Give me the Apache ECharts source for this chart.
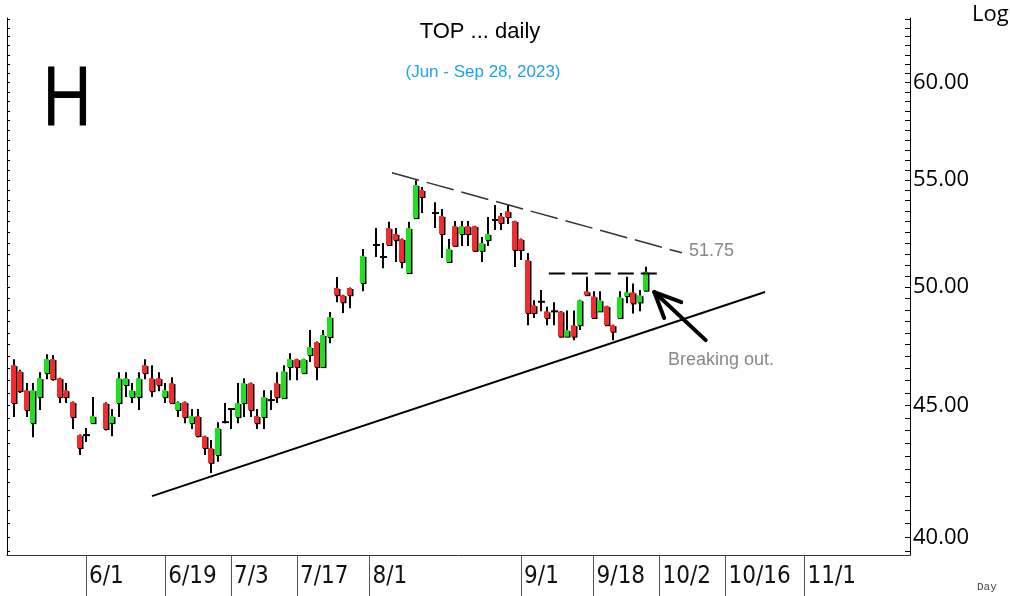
<!DOCTYPE html>
<html>
<head>
<meta charset="utf-8">
<title>TOP ... daily</title>
<script src="https://cdn.jsdelivr.net/npm/echarts@6/dist/echarts.min.js"></script>
<style>
  html, body { margin: 0; padding: 0; background: #fff; }
  #chart { width: 1010px; height: 596px; }
</style>
</head>
<body>
<div id="chart"></div>
<script>
// x slots are weekdays starting 5/16/2023, holidays kept as slots
const slotCount = 138
const tickLabels = ['6/1', '6/19', '7/3', '7/17', '8/1', '9/1', '9/18', '10/2', '10/16', '11/1']
const priceLabels = [40, 45, 50, 55, 60]

// daily candles, one entry per slot (null = no bar)
const opens = [
  null, 46.64, 46.39, 45.61, 44.29, 45.33, 46.31, 46.89, 46.10, 45.61,
  45.13, 43.82, 43.82, 44.29, null, 45.09, 44.29, 45.09, 45.82, 45.33,
  45.33, 46.64, 46.10, 46.10, 45.33, 45.90, 44.81, 45.13, 44.29, 44.57,
  43.78, 43.32, 43.05, 44.33, 44.85, 44.53, 45.09, 45.90, 44.57, 44.53,
  45.21, 45.90, 45.29, 46.56, 46.89, 46.31, 47.06, 47.61, 46.56, 47.82,
  49.96, 49.64, 49.96, null, 50.18, null, 51.91, 51.36, 52.70, 52.42,
  52.19, 50.63, 53.17, 54.52, null, 53.41, 53.27, 51.13, 52.79, 52.42,
  52.79, 52.79, 51.64, 52.14, 53.08, 53.27, 53.50, 53.03, 52.19, 51.22,
  49.20, 49.35, 48.93, 48.93, 48.93, 47.84, 48.33, 48.33, 49.81, 49.59,
  48.93, 49.16, 48.33, 48.64, 49.60, 49.77, 49.32, 49.84
]
const highs = [
  null, 46.89, 46.45, 45.90, 45.90, 46.35, 47.10, 47.06, 46.12, 45.90,
  45.15, 43.84, 44.10, 45.33, null, 45.12, 44.85, 46.35, 46.35, 45.90,
  46.35, 46.89, 46.64, 46.35, 45.90, 46.14, 45.15, 45.15, 44.85, 44.85,
  43.80, 43.63, 44.33, 45.09, 44.87, 45.90, 46.10, 45.92, 44.85, 45.61,
  45.61, 46.35, 46.64, 47.14, 46.91, 46.91, 48.12, 47.63, 48.12, 48.90,
  50.45, 49.66, 49.98, null, 51.73, null, 52.70, 52.00, 53.00, 52.70,
  52.21, 53.00, 55.00, 54.66, null, 53.93, 53.60, 52.19, 53.03, 53.03,
  53.03, 52.81, 52.28, 53.22, 53.79, 53.41, 53.79, 53.05, 52.21, 51.54,
  49.42, 49.87, 49.13, 49.33, 48.95, 48.97, 48.97, 49.44, 50.46, 49.81,
  49.81, 49.18, 48.35, 49.81, 50.46, 50.16, 49.87, 50.91
]
const lows = [
  null, 44.53, 45.50, 44.53, 43.74, 44.81, 46.06, 46.00, 45.09, 45.09,
  44.06, 43.05, 43.55, 44.27, null, 44.00, 43.78, 44.53, 45.33, 45.09,
  44.81, 46.06, 45.33, 45.57, 45.09, 45.05, 44.53, 44.29, 44.06, 43.74,
  43.05, 42.37, 42.79, 44.29, 44.06, 44.29, 44.53, 44.53, 44.06, 44.06,
  44.81, 45.09, 45.25, 46.02, 46.02, 46.29, 46.77, 46.02, 46.54, 47.56,
  49.33, 48.86, 49.07, null, 49.82, null, 51.36, 50.85, 51.89, 51.13,
  50.85, 50.61, 53.13, 53.41, null, 52.70, 51.31, 51.11, 51.85, 51.87,
  51.87, 51.60, 51.13, 51.87, 52.61, 52.61, 52.89, 50.90, 51.22, 48.33,
  48.64, 48.93, 48.33, 48.33, 47.80, 47.82, 47.69, 48.12, 49.62, 48.62,
  48.91, 48.31, 47.69, 48.62, 49.28, 48.84, 48.93, 49.82
]
const closes = [
  null, 45.09, 45.57, 44.81, 45.61, 46.10, 46.89, 46.06, 45.33, 45.33,
  44.53, 43.32, 43.82, 44.57, null, 44.06, 44.57, 46.10, 46.10, 45.61,
  46.10, 46.31, 45.57, 45.82, 45.61, 45.09, 45.13, 44.53, 44.57, 43.78,
  43.32, 42.75, 44.10, 44.33, 44.85, 45.09, 45.90, 44.81, 44.29, 45.33,
  45.21, 45.33, 46.39, 46.89, 46.56, 46.89, 47.40, 46.56, 47.91, 48.68,
  49.64, 49.33, 49.64, null, 51.41, null, 51.91, 51.36, 51.91, 52.14,
  51.13, 52.70, 54.76, 54.18, null, 53.41, 52.42, 51.73, 51.87, 52.79,
  52.42, 51.64, 52.00, 52.42, 53.08, 52.94, 53.22, 51.68, 51.68, 48.86,
  48.86, 49.35, 48.64, 48.93, 47.84, 48.12, 47.84, 49.42, 49.64, 48.64,
  49.42, 48.33, 48.05, 49.55, 49.77, 49.28, 49.64, 50.69
]

// annotations, in [slot, price]
const supportLine = [[22.0, 41.50], [115.0, 49.78]]
const resistLine = [[58.4, 55.36], [102.4, 51.55]]
const breakoutLevel = [[82.2, 50.61], [99.5, 50.61]]
const arrowShaft = [[106.0, 47.69], [98.2, 49.78]]
const arrowHead = [[102.3, 49.33], [98.2, 49.78], [99.7, 48.64]]

const GREEN = '#1fe01f'
const RED = '#f02c2c'
const yMin = 39.38
const yMax = 63.55

const dates = []
const day = new Date(2023, 4, 16)
while (dates.length < slotCount) {
  const wd = day.getDay()
  if (wd !== 0 && wd !== 6) dates.push((day.getMonth() + 1) + '/' + day.getDate())
  day.setDate(day.getDate() + 1)
}

const candleRows = []
opens.forEach((o, i) => {
  if (o != null) candleRows.push([i, o, highs[i], lows[i], closes[i]])
})

const minorTicks = []
for (let v = 39.5; v <= 63.5; v += 0.5) minorTicks.push(v)

function renderCandle(params, api) {
  const i = api.value(0)
  const o = api.value(1)
  const h = api.value(2)
  const l = api.value(3)
  const c = api.value(4)
  const pH = api.coord([i, h])
  const pL = api.coord([i, l])
  const pO = api.coord([i, o])
  const pC = api.coord([i, c])
  const x = Math.round(pH[0])
  const y1 = Math.min(pO[1], pC[1])
  const y2 = Math.max(pO[1], pC[1])
  const kids = [{
    type: 'rect',
    shape: { x: x - 1, y: pH[1], width: 2, height: pL[1] - pH[1] },
    style: { fill: '#000' }
  }]
  if (y2 - y1 < 1.5) {
    kids.push({ type: 'rect', shape: { x: x - 3, y: y1 - 1, width: 7, height: 2 }, style: { fill: '#000' } })
  } else {
    // dark shadow on the right / bottom
    kids.push({ type: 'rect', shape: { x: x - 2, y: y1 + 1, width: 5.5, height: y2 - y1 }, style: { fill: '#000' } })
    kids.push({ type: 'rect', shape: { x: x - 3, y: y1, width: 5, height: y2 - y1 }, style: { fill: c >= o ? GREEN : RED } })
  }
  return { type: 'group', children: kids }
}

function lineSeries(data, style) {
  return {
    type: 'line',
    xAxisIndex: 1,
    yAxisIndex: 0,
    data: data,
    symbol: 'none',
    silent: true,
    z: 5,
    lineStyle: style
  }
}

function txt(x, y, text, font, color, align, scaleX) {
  return {
    type: 'text',
    x: x,
    y: y,
    scaleX: scaleX || 1,
    silent: true,
    style: {
      text: text,
      font: font,
      fill: color,
      align: align || 'center',
      verticalAlign: 'middle',
      textAlign: align || 'center',
      textVerticalAlign: 'middle'
    }
  }
}

const chart = echarts.init(document.getElementById('chart'), null, { renderer: 'canvas' })
chart.setOption({
  animation: false,
  backgroundColor: '#fff',
  grid: { left: 7, right: 100, top: 18, bottom: 41, containLabel: false, outerBoundsMode: 'none' },
  xAxis: [
    {
      type: 'category',
      data: dates,
      boundaryGap: false,
      axisLine: { onZero: false, lineStyle: { color: '#333', width: 1 } },
      axisTick: {
        show: true,
        length: 41,
        interval: (idx, val) => tickLabels.indexOf(val) >= 0,
        lineStyle: { color: '#555', width: 1 }
      },
      axisLabel: {
        interval: (idx, val) => tickLabels.indexOf(val) >= 0,
        align: 'left',
        padding: [0, 0, 0, 3],
        margin: 10,
        fontSize: 24,
        fontFamily: '"DejaVu Sans Condensed", "Liberation Sans", sans-serif',
        color: '#111'
      },
      splitLine: { show: false }
    },
    { type: 'value', min: 0, max: slotCount - 1, show: false }
  ],
  yAxis: [
    {
      type: 'log',
      position: 'right',
      min: yMin,
      max: yMax,
      axisLine: { show: true, onZero: false, lineStyle: { color: '#000', width: 1 } },
      axisTick: { show: true, inside: true, length: 5, customValues: minorTicks, lineStyle: { color: '#000' } },
      axisLabel: {
        customValues: priceLabels,
        formatter: v => Number(v).toFixed(2),
        margin: 3,
        fontSize: 22,
        fontFamily: '"Open Sans", sans-serif',
        color: '#000'
      },
      splitLine: { show: false }
    },
    {
      type: 'log',
      position: 'left',
      min: yMin,
      max: yMax,
      axisLine: { show: true, onZero: false, lineStyle: { color: '#000', width: 1 } },
      axisTick: { show: true, inside: true, length: 3, customValues: minorTicks, lineStyle: { color: '#000' } },
      axisLabel: { show: false },
      splitLine: { show: false }
    }
  ],
  series: [
    {
      type: 'custom',
      name: 'TOP',
      xAxisIndex: 0,
      yAxisIndex: 0,
      data: candleRows,
      encode: { x: 0, y: [1, 2, 3, 4] },
      renderItem: renderCandle,
      z: 3
    },
    lineSeries(supportLine, { color: '#000', width: 2 }),
    lineSeries(resistLine, { color: '#333', width: 1.5, type: [28, 8] }),
    lineSeries(breakoutLevel, { color: '#000', width: 2, type: [16, 7] }),
    lineSeries(arrowShaft, { color: '#000', width: 4, cap: 'round' }),
    lineSeries(arrowHead, { color: '#000', width: 4, cap: 'round', join: 'round' })
  ],
  graphic: {
    elements: [
      txt(480, 32, 'TOP ... daily', '22px "Liberation Sans", Arial, sans-serif', '#000'),
      txt(483, 72, '(Jun - Sep 28, 2023)', '17px "Liberation Sans", Arial, sans-serif', '#1aa3ee'),
      txt(67, 102, 'H', '85px "Liberation Sans", Arial, sans-serif', '#000', 'center', 0.8),
      txt(972, 15, 'Log', '22px "Open Sans", sans-serif', '#000', 'left'),
      txt(977, 587, 'Day', '11px "Liberation Mono", monospace', '#444', 'left'),
      txt(689, 251, '51.75', '18px "Liberation Sans", Arial, sans-serif', '#888', 'left'),
      txt(668, 360, 'Breaking out.', '18px "Liberation Sans", Arial, sans-serif', '#888', 'left')
    ]
  }
})
</script>
</body>
</html>
